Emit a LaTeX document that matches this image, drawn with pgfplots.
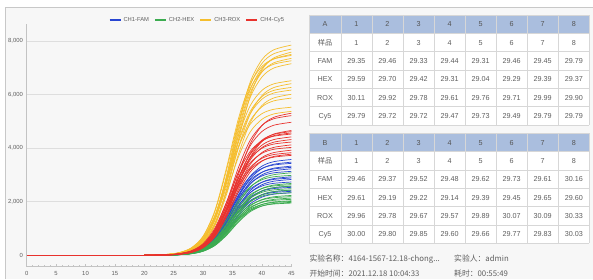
\documentclass[border=0pt]{standalone}
\usepackage{pgfplots}
\pgfplotsset{compat=1.18}
\usepackage{fontspec}
\setmainfont{Liberation Sans}
\newfontfamily\cjk{Noto Sans CJK SC}
\definecolor{famc}{RGB}{40,70,210}
\definecolor{hexc}{RGB}{60,172,80}
\definecolor{roxc}{RGB}{245,190,45}
\definecolor{cy5c}{RGB}{232,50,45}
\definecolor{panelbg}{RGB}{247,247,247}
\definecolor{panelborder}{RGB}{200,200,200}
\definecolor{axisc}{RGB}{195,195,195}
\definecolor{gridc2}{RGB}{222,222,222}
\definecolor{ticktxt}{RGB}{95,95,95}
\definecolor{hdr}{RGB}{170,190,222}
\definecolor{cellgrid}{RGB}{215,215,215}
\definecolor{celltxt}{RGB}{95,95,95}
\definecolor{hdrtxt}{RGB}{85,85,85}
\pgfplotsset{curve/.style={smooth, line width=0.7pt, forget plot, mark=none}}
\tikzset{celltext/.style={font=\fontsize{7.2}{8}\selectfont, text=celltxt, inner sep=0pt, anchor=base}}
\newcommand\drawtable[7]{% #1 top, #2 letter, #3 FAM, #4 HEX, #5 ROX, #6 Cy5, #7 unused
  \fill[white] (309,#1-110) rectangle (589.3,#1);
  \fill[hdr] (309,#1-18.333) rectangle (589.3,#1);
  \foreach \k in {0,...,6} \draw[cellgrid,line width=0.6pt] (309,#1-18.333*\k) -- (589.3,#1-18.333*\k);
  \foreach \xx in {309,340.9,371.95,403.0,434.05,465.1,496.15,527.2,558.25,589.3} \draw[cellgrid,line width=0.6pt] (\xx,#1) -- (\xx,#1-110);
  \node[celltext,text=hdrtxt] at (325,#1-9.17-2.6) {#2};
  \foreach \j in {1,...,8} {
    \node[celltext,text=hdrtxt] at ({340.9+31.05*(\j-0.5)},#1-9.17-2.6) {\j};
    \node[celltext] at ({340.9+31.05*(\j-0.5)},#1-18.333-9.17-2.6) {\j};
  }
  \node[celltext] at (325,#1-18.333-9.17-2.6) {\cjk 样品};
  \node[celltext] at (325,#1-36.667-9.17-2.6) {FAM};
  \node[celltext] at (325,#1-55-9.17-2.6) {HEX};
  \node[celltext] at (325,#1-73.333-9.17-2.6) {ROX};
  \node[celltext] at (325,#1-91.667-9.17-2.6) {Cy5};
  \foreach \v [count=\j] in {#3} \node[celltext] at ({340.9+31.05*(\j-0.5)},#1-36.667-9.17-2.6) {\v};
  \foreach \v [count=\j] in {#4} \node[celltext] at ({340.9+31.05*(\j-0.5)},#1-55-9.17-2.6) {\v};
  \foreach \v [count=\j] in {#5} \node[celltext] at ({340.9+31.05*(\j-0.5)},#1-73.333-9.17-2.6) {\v};
  \foreach \v [count=\j] in {#6} \node[celltext] at ({340.9+31.05*(\j-0.5)},#1-91.667-9.17-2.6) {\v};
}
\begin{document}
\begin{tikzpicture}[x=1pt,y=1pt]
\useasboundingbox (0,0) rectangle (593,279);
\fill[white] (0,0) rectangle (593,279);
\fill[panelbg] (5,0) rectangle (593,272);
\draw[panelborder, line width=0.8pt] (5,0) -- (5,272) -- (593,272);
\begin{axis}[
 at={(26.7pt,12.3pt)}, anchor=south west, scale only axis,
 width=264.6pt, height=242.7pt,
 xmin=0, xmax=45, ymin=-425, ymax=8635,
 axis x line*=bottom, axis y line*=left,
 axis line style={axisc, line width=0.6pt, -},
 xtick={0,5,...,45}, minor x tick num=4,
 ytick={0,2000,4000,6000,8000},
 scaled y ticks=false,
 tick align=inside,
 major tick length=2.4pt, minor tick length=1.4pt,
 every tick/.style={axisc, line width=0.5pt},
 ytick style={draw=none},
 ymajorgrids, grid style={gridc2, line width=0.6pt},
 tick label style={font=\fontsize{5.9}{6}\selectfont, text=ticktxt},
 /pgf/number format/assume math mode=true,
 /pgf/number format/1000 sep={,},
 xticklabel style={yshift=-1.2pt},
 yticklabel style={xshift=-0.3pt},
 legend columns=4,
 legend cell align=left,
 legend style={at={(1,1)}, anchor=east, xshift=-5pt, yshift=4pt, draw=none, fill=none,
   font=\fontsize{5.8}{6}\selectfont, text=ticktxt,
   /tikz/every even column/.append style={column sep=3pt}, inner sep=0pt},
 legend image code/.code={\draw[line width=1.9pt] (0pt,0pt) -- (11pt,0pt);},
]
\addlegendimage{famc}\addlegendentry{CH1-FAM}
\addlegendimage{hexc}\addlegendentry{CH2-HEX}
\addlegendimage{roxc}\addlegendentry{CH3-ROX}
\addlegendimage{cy5c}\addlegendentry{CH4-Cy5}
% CH1-FAM (flat at 0 from cycle 0 to 20)
\addplot[famc,curve] coordinates {(20,0)(24,15)(26,40)(28,106)(30,273)(32,657)(34,1359)(36,2241)(38,2943)(40,3327)(42,3495)(45,3576)};
\addplot[famc,curve] coordinates {(20,0)(24,14)(26,38)(28,103)(30,266)(32,638)(34,1321)(36,2179)(38,2862)(40,3234)(42,3398)(45,3477)};
\addplot[famc,curve] coordinates {(20,0)(24,18)(26,49)(28,129)(30,329)(32,768)(34,1510)(36,2343)(38,2939)(40,3243)(42,3371)(45,3432)};
\addplot[famc,curve] coordinates {(20,0)(24,14)(26,37)(28,98)(30,254)(32,611)(34,1265)(36,2085)(38,2739)(40,3096)(42,3252)(45,3328)};
\addplot[famc,curve] coordinates {(20,0)(24,17)(26,46)(28,123)(30,315)(32,735)(34,1445)(36,2241)(38,2812)(40,3102)(42,3224)(45,3283)};
\addplot[famc,curve] coordinates {(20,0)(24,13)(26,36)(28,95)(30,247)(32,593)(34,1227)(36,2023)(38,2657)(40,3003)(42,3155)(45,3228)};
\addplot[famc,curve] coordinates {(20,0)(24,16)(26,44)(28,118)(30,300)(32,702)(34,1379)(36,2139)(38,2684)(40,2961)(42,3078)(45,3134)};
\addplot[famc,curve] coordinates {(20,0)(24,12)(26,32)(28,86)(30,224)(32,538)(34,1114)(36,1836)(38,2412)(40,2726)(42,2864)(45,2930)};
\addplot[famc,curve] coordinates {(20,0)(24,15)(26,41)(28,108)(30,277)(32,646)(34,1270)(36,1970)(38,2471)(40,2726)(42,2833)(45,2885)};
\addplot[famc,curve] coordinates {(20,0)(24,12)(26,31)(28,84)(30,216)(32,520)(34,1076)(36,1774)(38,2330)(40,2634)(42,2766)(45,2831)};
\addplot[famc,curve] coordinates {(20,0)(24,14)(26,39)(28,103)(30,262)(32,612)(34,1204)(36,1868)(38,2343)(40,2585)(42,2687)(45,2736)};
\addplot[famc,curve] coordinates {(20,0)(24,11)(26,29)(28,76)(30,197)(32,474)(34,982)(36,1618)(38,2126)(40,2403)(42,2524)(45,2583)};
\addplot[famc,curve] coordinates {(20,0)(24,13)(26,36)(28,95)(30,243)(32,568)(34,1116)(36,1732)(38,2173)(40,2397)(42,2491)(45,2537)};
\addplot[famc,curve] coordinates {(20,0)(24,10)(26,27)(28,72)(30,186)(32,447)(34,925)(36,1525)(38,2003)(40,2264)(42,2378)(45,2434)};
\addplot[famc,curve] coordinates {(20,0)(24,13)(26,34)(28,90)(30,229)(32,534)(34,1051)(36,1630)(38,2045)(40,2256)(42,2345)(45,2388)};
\addplot[famc,curve] coordinates {(20,0)(24,10)(26,26)(28,69)(30,178)(32,429)(34,887)(36,1463)(38,1921)(40,2172)(42,2281)(45,2334)};
% CH2-HEX
\addplot[hexc,curve] coordinates {(20,0)(24,13)(26,34)(28,91)(30,235)(32,565)(34,1170)(36,1930)(38,2535)(40,2865)(42,3009)(45,3079)};
\addplot[hexc,curve] coordinates {(20,0)(24,16)(26,42)(28,112)(30,286)(32,668)(34,1313)(36,2038)(38,2556)(40,2820)(42,2931)(45,2984)};
\addplot[hexc,curve] coordinates {(20,0)(24,11)(26,30)(28,79)(30,205)(32,492)(34,1019)(36,1681)(38,2208)(40,2495)(42,2621)(45,2682)};
\addplot[hexc,curve] coordinates {(20,0)(24,14)(26,37)(28,99)(30,253)(32,590)(34,1160)(36,1800)(38,2258)(40,2491)(42,2589)(45,2636)};
\addplot[hexc,curve] coordinates {(20,0)(24,11)(26,29)(28,76)(30,197)(32,474)(34,982)(36,1618)(38,2126)(40,2403)(42,2524)(45,2583)};
\addplot[hexc,curve] coordinates {(20,0)(24,13)(26,35)(28,93)(30,238)(32,557)(34,1094)(36,1698)(38,2130)(40,2350)(42,2442)(45,2487)};
\addplot[hexc,curve] coordinates {(20,0)(24,10)(26,27)(28,72)(30,186)(32,447)(34,925)(36,1525)(38,2003)(40,2264)(42,2378)(45,2434)};
\addplot[hexc,curve] coordinates {(20,0)(24,12)(26,33)(28,88)(30,224)(32,523)(34,1029)(36,1596)(38,2002)(40,2209)(42,2296)(45,2338)};
\addplot[hexc,curve] coordinates {(20,0)(24,9)(26,25)(28,66)(30,171)(32,410)(34,849)(36,1401)(38,1840)(40,2079)(42,2184)(45,2235)};
\addplot[hexc,curve] coordinates {(20,0)(24,11)(26,31)(28,82)(30,210)(32,490)(34,963)(36,1494)(38,1874)(40,2068)(42,2149)(45,2189)};
\addplot[hexc,curve] coordinates {(20,0)(24,9)(26,24)(28,63)(30,163)(32,392)(34,812)(36,1338)(38,1758)(40,1987)(42,2087)(45,2136)};
\addplot[hexc,curve] coordinates {(20,0)(24,11)(26,30)(28,78)(30,200)(32,468)(34,919)(36,1426)(38,1789)(40,1974)(42,2052)(45,2089)};
\addplot[hexc,curve] coordinates {(20,0)(24,8)(26,23)(28,60)(30,156)(32,374)(34,774)(36,1276)(38,1676)(40,1894)(42,1990)(45,2036)};
\addplot[hexc,curve] coordinates {(20,0)(24,11)(26,28)(28,75)(30,193)(32,450)(34,884)(36,1372)(38,1721)(40,1899)(42,1974)(45,2010)};
\addplot[hexc,curve] coordinates {(20,0)(24,8)(26,22)(28,58)(30,151)(32,363)(34,751)(36,1239)(38,1627)(40,1839)(42,1932)(45,1977)};
\addplot[hexc,curve] coordinates {(20,0)(24,10)(26,28)(28,73)(30,187)(32,436)(34,858)(36,1331)(38,1670)(40,1842)(42,1915)(45,1950)};
% CH3-ROX
\addplot[roxc,curve] coordinates {(20,0)(24,32)(26,87)(28,232)(30,599)(32,1441)(34,2982)(36,4918)(38,6459)(40,7300)(42,7669)(45,7847)};
\addplot[roxc,curve] coordinates {(20,0)(24,32)(26,85)(28,227)(30,588)(32,1414)(34,2926)(36,4824)(38,6336)(40,7162)(42,7523)(45,7698)};
\addplot[roxc,curve] coordinates {(20,0)(24,24)(26,66)(28,176)(30,460)(32,1132)(34,2454)(36,4301)(38,5946)(40,6921)(42,7365)(45,7584)};
\addplot[roxc,curve] coordinates {(20,0)(24,31)(26,83)(28,221)(30,573)(32,1377)(34,2850)(36,4700)(38,6173)(40,6977)(42,7329)(45,7499)};
\addplot[roxc,curve] coordinates {(20,0)(24,39)(26,105)(28,280)(30,715)(32,1670)(34,3284)(36,5094)(38,6390)(40,7049)(42,7328)(45,7461)};
\addplot[roxc,curve] coordinates {(20,0)(24,30)(26,81)(28,217)(30,561)(32,1350)(34,2794)(36,4607)(38,6050)(40,6838)(42,7183)(45,7350)};
\addplot[roxc,curve] coordinates {(20,0)(24,38)(26,103)(28,272)(30,696)(32,1626)(34,3196)(36,4958)(38,6220)(40,6861)(42,7132)(45,7262)};
\addplot[roxc,curve] coordinates {(20,0)(24,29)(26,79)(28,211)(30,546)(32,1313)(34,2718)(36,4482)(38,5887)(40,6654)(42,6989)(45,7152)};
\addplot[roxc,curve] coordinates {(20,0)(24,34)(26,92)(28,244)(30,625)(32,1459)(34,2868)(36,4449)(38,5581)(40,6156)(42,6399)(45,6516)};
\addplot[roxc,curve] coordinates {(20,0)(24,26)(26,71)(28,189)(30,489)(32,1176)(34,2435)(36,4015)(38,5274)(40,5960)(42,6261)(45,6407)};
\addplot[roxc,curve] coordinates {(20,0)(24,33)(26,89)(28,235)(30,601)(32,1403)(34,2758)(36,4279)(38,5368)(40,5921)(42,6155)(45,6267)};
\addplot[roxc,curve] coordinates {(20,0)(24,32)(26,87)(28,231)(30,591)(32,1381)(34,2714)(36,4211)(38,5282)(40,5827)(42,6057)(45,6168)};
\addplot[roxc,curve] coordinates {(20,0)(24,25)(26,66)(28,177)(30,459)(32,1104)(34,2284)(36,3766)(38,4946)(40,5591)(42,5873)(45,6009)};
\addplot[roxc,curve] coordinates {(20,0)(24,31)(26,83)(28,220)(30,563)(32,1314)(34,2583)(36,4007)(38,5027)(40,5545)(42,5764)(45,5869)};
\addplot[roxc,curve] coordinates {(20,0)(24,37)(26,100)(28,263)(30,662)(32,1492)(34,2775)(36,4058)(38,4888)(40,5287)(42,5450)(45,5527)};
\addplot[roxc,curve] coordinates {(20,0)(24,28)(26,76)(28,202)(30,515)(32,1203)(34,2364)(36,3668)(38,4601)(40,5075)(42,5276)(45,5372)};
% CH4-Cy5
\addplot[cy5c,curve] coordinates {(20,0)(24,17)(26,46)(28,123)(30,321)(32,792)(34,1716)(36,3008)(38,4159)(40,4840)(42,5150)(45,5304)};
\addplot[cy5c,curve] coordinates {(20,0)(24,21)(26,58)(28,154)(30,398)(32,958)(34,1982)(36,3268)(38,4292)(40,4852)(42,5096)(45,5215)};
\addplot[cy5c,curve] coordinates {(20,0)(24,20)(26,55)(28,147)(30,379)(32,912)(34,1888)(36,3112)(38,4088)(40,4620)(42,4854)(45,4966)};
\addplot[cy5c,curve] coordinates {(20,0)(24,15)(26,40)(28,108)(30,282)(32,696)(34,1508)(36,2642)(38,3653)(40,4252)(42,4525)(45,4660)};
\addplot[cy5c,curve] coordinates {(20,0)(24,19)(26,51)(28,136)(30,353)(32,848)(34,1755)(36,2895)(38,3802)(40,4297)(42,4514)(45,4619)};
\addplot[cy5c,curve] coordinates {(20,0)(24,19)(26,51)(28,135)(30,349)(32,839)(34,1736)(36,2864)(38,3761)(40,4251)(42,4465)(45,4569)};
\addplot[cy5c,curve] coordinates {(20,0)(24,24)(26,64)(28,170)(30,434)(32,1013)(34,1992)(36,3090)(38,3877)(40,4276)(42,4445)(45,4526)};
\addplot[cy5c,curve] coordinates {(20,0)(24,18)(26,49)(28,130)(30,338)(32,812)(34,1680)(36,2770)(38,3638)(40,4112)(42,4320)(45,4420)};
\addplot[cy5c,curve] coordinates {(20,0)(24,18)(26,48)(28,127)(30,330)(32,793)(34,1642)(36,2708)(38,3557)(40,4020)(42,4222)(45,4321)};
\addplot[cy5c,curve] coordinates {(20,0)(24,22)(26,60)(28,159)(30,405)(32,946)(34,1861)(36,2887)(38,3621)(40,3995)(42,4152)(45,4228)};
\addplot[cy5c,curve] coordinates {(20,0)(24,17)(26,46)(28,122)(30,315)(32,757)(34,1567)(36,2583)(38,3393)(40,3835)(42,4028)(45,4122)};
\addplot[cy5c,curve] coordinates {(20,0)(24,21)(26,57)(28,151)(30,386)(32,902)(34,1773)(36,2751)(38,3451)(40,3807)(42,3957)(45,4029)};
\addplot[cy5c,curve] coordinates {(20,0)(24,16)(26,43)(28,116)(30,300)(32,720)(34,1491)(36,2459)(38,3230)(40,3650)(42,3834)(45,3924)};
\addplot[cy5c,curve] coordinates {(20,0)(24,20)(26,54)(28,144)(30,367)(32,857)(34,1686)(36,2615)(38,3280)(40,3619)(42,3761)(45,3830)};
\addplot[cy5c,curve] coordinates {(20,0)(24,15)(26,42)(28,111)(30,288)(32,693)(34,1434)(36,2366)(38,3107)(40,3512)(42,3689)(45,3775)};
\addplot[cy5c,curve] coordinates {(20,0)(24,20)(26,53)(28,140)(30,358)(32,835)(34,1642)(36,2547)(38,3195)(40,3525)(42,3664)(45,3730)};
% flat baseline of all wells before amplification (cycles 0-20)
\addplot[cy5c, line width=1.5pt, forget plot] coordinates {(0,0)(5,0)(10,0)(15,0)(20,0)(21,0)};
\end{axis}
\drawtable{264}{A}{29.35,29.46,29.33,29.44,29.31,29.46,29.45,29.79}{29.59,29.70,29.42,29.31,29.04,29.29,29.39,29.37}{30.11,29.92,29.78,29.61,29.76,29.71,29.99,29.90}{29.79,29.72,29.72,29.47,29.73,29.49,29.79,29.79}{}
\drawtable{145.7}{B}{29.46,29.37,29.52,29.48,29.62,29.73,29.61,30.16}{29.61,29.19,29.22,29.14,29.39,29.45,29.65,29.60}{29.96,29.78,29.67,29.57,29.89,30.07,30.09,30.33}{30.00,29.80,29.85,29.60,29.66,29.77,29.83,30.03}{}
\begin{scope}[every node/.style={inner sep=0pt, anchor=base west, font=\cjk\fontsize{7.8}{9}\selectfont, text=celltxt}]
\node at (309.3,18) {实验名称：4164-1567-12.18-chong...};
\node at (454,18) {实验人：admin};
\node at (309.3,2.4) {开始时间：2021.12.18 10:04:33};
\node at (454,2.4) {耗时：00:55:49};
\end{scope}
\end{tikzpicture}
\end{document}
